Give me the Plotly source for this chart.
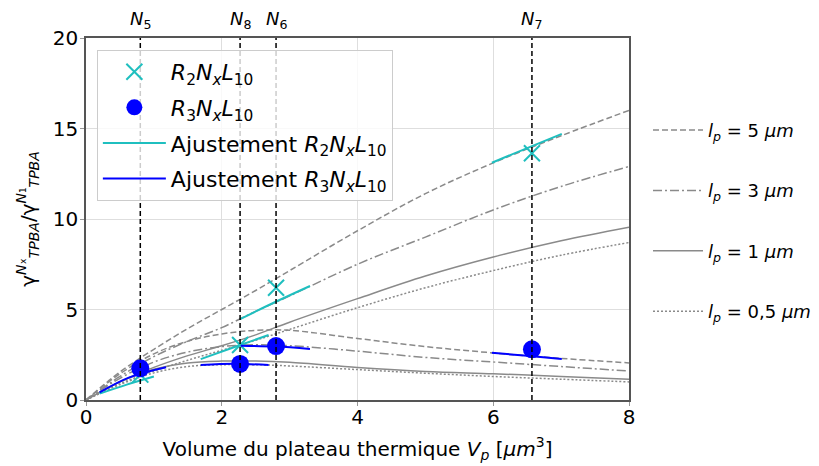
import plotly.graph_objects as go

# ---------------- data ----------------
vp_grid = [0, 0.5, 1, 1.5, 2, 2.5, 3, 4, 5, 6, 7, 8]

lp5_upper = [0, 1.55, 2.8, 3.95, 5.0, 6.05, 7.15, 9.35, 11.4, 13.1, 14.6, 16.0]
lp5_lower = [0, 1.45, 2.55, 3.25, 3.65, 3.85, 3.85, 3.4, 2.95, 2.6, 2.3, 2.05]
lp3_upper = [0, 1.3, 2.4, 3.25, 4.0, 4.9, 5.75, 7.5, 9.0, 10.5, 11.8, 12.9]
lp3_lower = [0, 1.2, 2.1, 2.65, 2.95, 3.05, 3.0, 2.7, 2.35, 2.1, 1.85, 1.6]
lp1_upper = [0, 1.0, 1.8, 2.45, 3.0, 3.6, 4.3, 5.6, 6.85, 7.9, 8.8, 9.55]
lp1_lower = [0, 1.0, 1.7, 2.05, 2.15, 2.15, 2.08, 1.8, 1.58, 1.45, 1.3, 1.15]
lp05_upper = [0, 0.9, 1.6, 2.2, 2.75, 3.3, 3.9, 5.1, 6.2, 7.15, 8.0, 8.7]
lp05_lower = [0, 0.85, 1.5, 1.85, 1.95, 1.95, 1.88, 1.68, 1.48, 1.3, 1.15, 1.0]

n_labels = ["5", "8", "6", "7"]
n_volumes = [0.8, 2.27, 2.80, 6.57]

r2_ratio = [1.4, 3.04, 6.2, 13.63]
r3_ratio = [1.75, 1.99, 2.98, 2.80]

fit_r2_x = [[0.2, 0.6, 1.0], [1.69, 2.19, 2.69], [2.27, 2.78, 3.30], [5.98, 6.5, 7.01]]
fit_r2_y = [[0.35, 0.85, 1.3], [2.26, 2.93, 3.59], [4.47, 5.4, 6.3], [13.11, 13.92, 14.7]]
fit_r3_x = [[0.2, 0.64, 1.18], [1.69, 2.19, 2.69], [2.28, 2.8, 3.30], [5.98, 6.5, 7.01]]
fit_r3_y = [[0.42, 1.25, 1.81], [1.93, 2.0, 1.93], [3.0, 2.95, 2.82], [2.61, 2.44, 2.27]]

lp_labels = ["5", "3", "1", "0,5"]

# ---------------- styles ----------------
FONT = "DejaVu Sans"
GRAY = "#8a8a8a"
CYAN = "#1fbfbf"
BLUE = "#0000ff"
dash_styles = ["6px,3px", "9px,3px,2px,3px", "solid", "2px,2px"]

fig = go.Figure()

curves = [(lp5_upper, lp5_lower), (lp3_upper, lp3_lower),
          (lp1_upper, lp1_lower), (lp05_upper, lp05_lower)]
for (up, lo), lab, dsh in zip(curves, lp_labels, dash_styles):
    name = f"<i>l<sub>p</sub></i> = {lab} <i>μm</i>"
    fig.add_trace(go.Scatter(x=vp_grid, y=up, mode="lines", name=name,
                             line=dict(color=GRAY, width=1.5, dash=dsh, shape="spline", smoothing=1.0),
                             legend="legend2", legendgroup="lp" + lab, showlegend=True))
    fig.add_trace(go.Scatter(x=vp_grid, y=lo, mode="lines", name=name,
                             line=dict(color=GRAY, width=1.5, dash=dsh, shape="spline", smoothing=1.0),
                             legend="legend2", legendgroup="lp" + lab, showlegend=False))


def join(segs):
    out = []
    for i, s in enumerate(segs):
        if i:
            out.append(None)
        out.extend(s)
    return out


fig.add_trace(go.Scatter(x=n_volumes, y=r2_ratio, mode="markers",
                         name="<i>R</i><sub>2</sub><i>N<sub>x</sub>L</i><sub>10</sub>",
                         marker=dict(symbol="x-thin-open", size=16, color=CYAN,
                                     line=dict(color=CYAN, width=2)),
                         legendgroup="a"))
fig.add_trace(go.Scatter(x=n_volumes, y=r3_ratio, mode="markers",
                         name="<i>R</i><sub>3</sub><i>N<sub>x</sub>L</i><sub>10</sub>",
                         marker=dict(symbol="circle", size=18, color=BLUE),
                         legendgroup="b"))
fig.add_trace(go.Scatter(x=join(fit_r2_x), y=join(fit_r2_y), mode="lines",
                         name="Ajustement <i>R</i><sub>2</sub><i>N<sub>x</sub>L</i><sub>10</sub>",
                         line=dict(color=CYAN, width=2, shape="spline"), connectgaps=False,
                         legendgroup="c"))
fig.add_trace(go.Scatter(x=join(fit_r3_x), y=join(fit_r3_y), mode="lines",
                         name="Ajustement <i>R</i><sub>3</sub><i>N<sub>x</sub>L</i><sub>10</sub>",
                         line=dict(color=BLUE, width=2, shape="spline"), connectgaps=False,
                         legendgroup="d"))

for v, lab in zip(n_volumes, n_labels):
    fig.add_shape(type="line", xref="x", yref="paper", x0=v, x1=v, y0=0, y1=1,
                  line=dict(color="black", width=1.5, dash="5px,3px"), layer="above")
    fig.add_annotation(x=v, xref="x", y=1, yref="paper", yanchor="bottom", yshift=4,
                       text=f"<i>N</i><sub>{lab}</sub>", showarrow=False,
                       font=dict(family=FONT, size=18, color="black"))

axis_common = dict(showgrid=True, gridcolor="#dedede", gridwidth=1,
                   showline=True, linecolor="#555", linewidth=1.5, mirror=True,
                   ticks="outside", ticklen=4, tickcolor="#999", zeroline=False,
                   automargin=False,
                   tickfont=dict(family=FONT, size=20, color="black"))

# page body adds an 8px offset: margins/size compensate for it
fig.update_layout(
    width=811, height=458,
    margin=dict(l=78, r=190, t=30, b=66, autoexpand=False),
    plot_bgcolor="white", paper_bgcolor="white",
    font=dict(family=FONT, color="black"),
    xaxis=dict(range=[0, 8], tickvals=[0, 2, 4, 6, 8], ticklabelstandoff=-6,
               title=dict(text="Volume du plateau thermique <i>V<sub>p</sub></i> [<i>μm</i><sup>3</sup>]",
                          font=dict(family=FONT, size=20), standoff=14),
               **axis_common),
    yaxis=dict(range=[0, 20], tickvals=[0, 5, 10, 15, 20], ticklabelstandoff=-2,
               title=dict(text="γ<sup><i>N</i>ₓ</sup><sub><i>TPBA</i></sub>/γ<sup><i>N</i>₁</sup><sub><i>TPBA</i></sub>",
                          font=dict(family=FONT, size=20), standoff=12),
               **axis_common),
    legend=dict(x=0.02, y=0.967, xanchor="left", yanchor="top",
                bgcolor="rgba(255,255,255,0.8)", bordercolor="#cccccc", borderwidth=1,
                font=dict(family=FONT, size=22, color="black"),
                itemwidth=63,
                traceorder="grouped", tracegroupgap=4),
    legend2=dict(x=1.035, y=0.796, xanchor="left", yanchor="top",
                 bgcolor="rgba(0,0,0,0)", borderwidth=0,
                 font=dict(family=FONT, size=18, color="black"),
                 itemwidth=50,
                 traceorder="grouped", tracegroupgap=34),
)

fig.write_html("out.html")
